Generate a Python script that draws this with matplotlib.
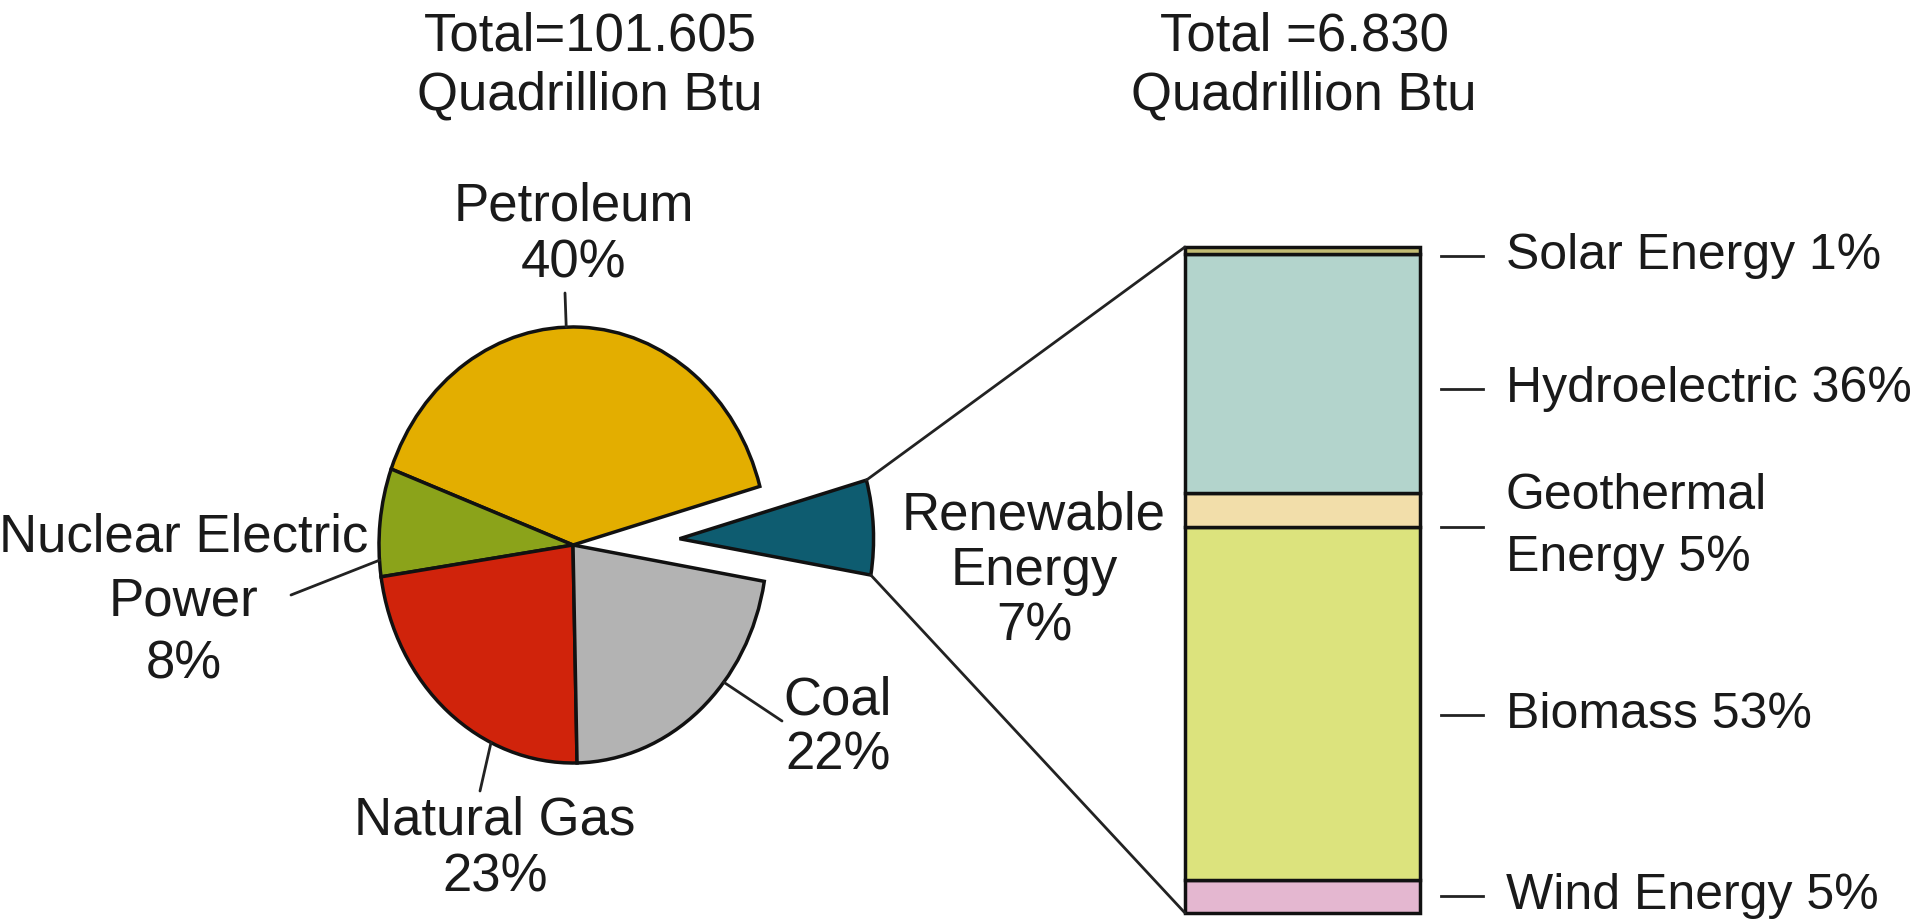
import matplotlib.pyplot as plt
from matplotlib.patches import ConnectionPatch
import numpy as np

plt.rcParams['font.family'] = ['Liberation Sans', 'DejaVu Sans']

# U.S. primary energy consumption by source
src_labels = ['Renewable\nEnergy', 'Petroleum', 'Nuclear Electric\nPower', 'Natural Gas', 'Coal']
src_share = [7, 40, 8, 23, 22]
src_colors = ['#0E5C70', '#E3AE00', '#8BA31A', '#D0230B', '#B3B3B3']
total_all = 101.605

# renewable energy breakdown (bottom to top)
ren_labels = ['Wind Energy', 'Biomass', 'Geothermal\nEnergy', 'Hydroelectric', 'Solar Energy']
ren_share = [5, 53, 5, 36, 1]
ren_colors = ['#E4B7D0', '#DCE37D', '#F2DEAA', '#B3D4CC', '#C2BB73']
total_ren = 6.830

W, H = 1915, 924
fig = plt.figure(figsize=(W / 100, H / 100), dpi=100)
txt = '#1a1a1a'
fs = 38

# pie axes: unit circle stretched to an ellipse (rx, ry in pixels)
cx, cy, rx, ry = 573, 545, 194, 218
ax_pie = fig.add_axes([0, 0, 1, 1])
wedges, _ = ax_pie.pie(src_share, colors=src_colors, startangle=-9.6,
                       explode=[0.55, 0, 0, 0, 0], counterclock=True,
                       wedgeprops=dict(edgecolor='#111111', linewidth=2.5))
ax_pie.set_aspect('auto')
ax_pie.set_xlim(-cx / rx, (W - cx) / rx)
ax_pie.set_ylim(-(H - cy) / ry, cy / ry)
ax_pie.axis('off')

# stacked bar for renewables
bar_h = 666
ax_bar = fig.add_axes([1185 / W, (H - 913) / H, 235 / W, bar_h / H])
bottoms = np.concatenate([[0], np.cumsum(ren_share)[:-1]])
bars = ax_bar.bar(0, ren_share, bottom=bottoms, width=1, color=ren_colors,
                  edgecolor='#111111', linewidth=2.5, clip_on=False)
ax_bar.set_xlim(-0.5, 0.5)
ax_bar.set_ylim(0, sum(ren_share))
ax_bar.axis('off')

# small downward nudges (pixels) for the labels beside the bar
label_dy = [0, 12, 17, 15, 6]
px = sum(ren_share) / bar_h
for b0, v, lab, dy in zip(bottoms, ren_share, ren_labels, label_dy):
    yc = b0 + v / 2 - dy * px
    ax_bar.plot([0.59, 0.77], [yc, yc], color='#222222', lw=2, clip_on=False)
    ax_bar.text(0.865, yc, f'{lab} {v}%', ha='left', va='center', fontsize=36,
                color=txt, linespacing=1.45, clip_on=False)

# overlay in pixel coords for labels
ov = fig.add_axes([0, 0, 1, 1])
ov.set_xlim(0, W)
ov.set_ylim(H, 0)
ov.axis('off')

ov.text(590, 66, f'Total={total_all:.3f}\nQuadrillion Btu', ha='center', va='center',
        fontsize=fs, color=txt, linespacing=1.25)
ov.text(1304, 66, f'Total ={total_ren:.3f}\nQuadrillion Btu', ha='center', va='center',
        fontsize=fs, color=txt, linespacing=1.25)

# pie labels: text centre, line spacing, leader angle, leader end
label_pos = [(1034, 571), (574, 235), (184, 601), (495, 849), (838, 728)]
label_ls = [1.15, 1.2, 1.35, 1.2, 1.15]
leader_deg = [None, 92, 184, 245, 321]
leader_end = [None, (565, 293), (291, 595), (480, 791), (782, 721)]

for lab, v, pos, ls, a, end in zip(src_labels, src_share, label_pos, label_ls,
                                   leader_deg, leader_end):
    ov.text(pos[0], pos[1], f'{lab}\n{v}%', ha='center', va='center', fontsize=fs,
            color=txt, linespacing=ls, multialignment='center')
    if a is not None:
        t = np.deg2rad(a)
        con = ConnectionPatch(xyA=(np.cos(t), np.sin(t)), coordsA=ax_pie.transData,
                              xyB=end, coordsB=ov.transData, color='#222222', lw=2)
        fig.add_artist(con)

# lines from the exploded renewable wedge to the bar
w = wedges[0]
wx, wy = w.center
for theta, yb in [(w.theta2, sum(ren_share)), (w.theta1, 0)]:
    t = np.deg2rad(theta)
    con = ConnectionPatch(xyA=(wx + w.r * np.cos(t), wy + w.r * np.sin(t)),
                          coordsA=ax_pie.transData, xyB=(-0.5, yb),
                          coordsB=ax_bar.transData, color='#222222', lw=2)
    fig.add_artist(con)

plt.savefig('out.png', dpi=100)
